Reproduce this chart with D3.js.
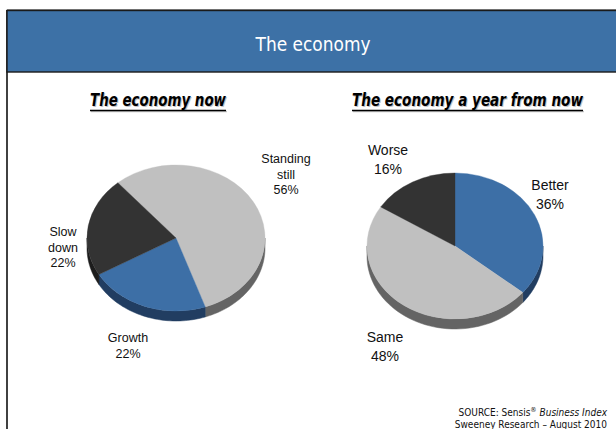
<!DOCTYPE html>
<html>
<head>
<meta charset="utf-8">
<script src="https://cdn.jsdelivr.net/npm/d3@7"></script>
<style>
  html, body { margin: 0; padding: 0; background: #fff; }
  svg { display: block; }
</style>
</head>
<body>
<svg id="chart" width="616" height="429"></svg>
<script>
// Survey data
const nowCategories = ["Standing still", "Growth", "Slow down"];
const nowValues = [56, 22, 22];
const nowColors = ["#c0c0c0", "#3d6fa6", "#333333"];
const nowWallColors = ["#646464", "#213d61", "#1c1c1c"];

const yearCategories = ["Better", "Same", "Worse"];
const yearValues = [36, 48, 16];
const yearColors = ["#3d6fa6", "#c0c0c0", "#333333"];
const yearWallColors = ["#213d61", "#646464", "#1c1c1c"];

const pageTitle = "The economy";
const subtitles = ["The economy now", "The economy a year from now"];
const sourceLines = ["SOURCE: Sensis", "Business Index", "Sweeney Research \u2013 August 2010"];

const svg = d3.select("#chart");

// Slide frame and header band
svg.append("line").attr("x1", 7).attr("x2", 7).attr("y1", 10).attr("y2", 429)
  .attr("stroke", "#111").attr("stroke-width", 1.6);
svg.append("line").attr("x1", 7).attr("x2", 616).attr("y1", 9.5).attr("y2", 9.5)
  .attr("stroke", "#888").attr("stroke-width", 1);
svg.append("rect").attr("x", 7).attr("y", 10.5).attr("width", 616).attr("height", 61.5)
  .attr("fill", "#3d71a6").attr("stroke", "#1a1a1a").attr("stroke-width", 1.4);
svg.append("text").attr("x", 313).attr("y", 51).attr("text-anchor", "middle")
  .attr("font-family", "'DejaVu Sans Condensed', 'DejaVu Sans', sans-serif")
  .attr("font-stretch", "condensed")
  .attr("font-size", 19.5).attr("fill", "#fff")
  .attr("textLength", 115).attr("lengthAdjust", "spacingAndGlyphs")
  .text(pageTitle);

// Underlined italic subtitles with a soft drop shadow
function subtitle(text, x, width) {
  const g = svg.append("g");
  [["#c4c4c4", 1], ["#000", 0]].forEach(([c, o]) => {
    g.append("text").attr("x", x + o).attr("y", 106 + o)
      .attr("font-family", "'DejaVu Sans Condensed', 'DejaVu Sans', sans-serif")
      .attr("font-stretch", "condensed")
      .attr("font-weight", "bold").attr("font-style", "italic")
      .attr("font-size", 17).attr("fill", c)
      .attr("textLength", width).attr("lengthAdjust", "spacingAndGlyphs")
      .text(text);
    g.append("line").attr("x1", x + o).attr("x2", x + width + o)
      .attr("y1", 110.5 + o).attr("y2", 110.5 + o)
      .attr("stroke", c).attr("stroke-width", 1.5);
  });
}
subtitle(subtitles[0], 90, 136);
subtitle(subtitles[1], 352, 231);

// Tilted 3-D pie: outer walls of the front half, then the top faces
function pie3d(opts) {
  const { cx, cy, rx, ry, depth, values, categories, colors, wallColors, start, labels, fontSize, lineGap } = opts;
  const arcs = d3.pie().sort(null).startAngle(start).endAngle(start + 2 * Math.PI)(values);

  const pt = (a, dy) => [cx + rx * Math.sin(a), cy - ry * Math.cos(a) + dy];
  const wallLine = d3.line();

  const walls = svg.append("g");
  arcs.forEach((d, i) => {
    [0, 2 * Math.PI, -2 * Math.PI].forEach(shift => {
      const lo = Math.max(d.startAngle + shift, Math.PI / 2);
      const hi = Math.min(d.endAngle + shift, 3 * Math.PI / 2);
      if (hi <= lo) return;
      const n = 48;
      const top = d3.range(n + 1).map(k => pt(lo + (hi - lo) * k / n, 0));
      const bottom = d3.range(n + 1).map(k => pt(hi - (hi - lo) * k / n, depth));
      walls.append("path").attr("d", wallLine(top.concat(bottom)) + "Z")
        .attr("fill", wallColors[i]).attr("stroke", wallColors[i]).attr("stroke-width", 0.5);
    });
  });

  const arc = d3.arc().innerRadius(0).outerRadius(rx);
  const face = svg.append("g").attr("transform", `translate(${cx},${cy}) scale(1,${ry / rx})`);
  face.selectAll("path").data(arcs).join("path")
    .attr("d", arc)
    .attr("fill", (d, i) => colors[i])
    .attr("stroke", (d, i) => colors[i]).attr("stroke-width", 0.4);

  // Category labels with percentages
  arcs.forEach((d, i) => {
    const lines = categories[i].split(" ");
    lines.push(values[i] + "%");
    const t = svg.append("text")
      .attr("font-family", "'Liberation Sans', Arial, sans-serif")
      .attr("font-size", fontSize).attr("fill", "#111").attr("text-anchor", "middle");
    lines.forEach((s, k) => {
      t.append("tspan").attr("x", labels[i].x).attr("y", labels[i].y + k * lineGap).text(s);
    });
  });
}

pie3d({
  cx: 176, cy: 238, rx: 89, ry: 73, depth: 10,
  values: nowValues, categories: nowCategories, colors: nowColors, wallColors: nowWallColors,
  start: -40.8 * Math.PI / 180, fontSize: 12.5, lineGap: 15.5,
  labels: [{ x: 286, y: 163 }, { x: 128, y: 342 }, { x: 63, y: 236 }]
});

pie3d({
  cx: 455, cy: 246, rx: 88, ry: 73, depth: 10,
  values: yearValues, categories: yearCategories, colors: yearColors, wallColors: yearWallColors,
  start: 0, fontSize: 14, lineGap: 18.5,
  labels: [{ x: 550, y: 190 }, { x: 385, y: 342 }, { x: 388, y: 155 }]
});

// Source note
const src = svg.append("text").attr("x", 607).attr("y", 416).attr("text-anchor", "end")
  .attr("font-family", "'DejaVu Sans Condensed', 'DejaVu Sans', sans-serif")
  .attr("font-stretch", "condensed").attr("font-size", 10).attr("fill", "#111");
src.append("tspan").text(sourceLines[0]);
src.append("tspan").attr("font-size", 7).attr("dy", -4).text("\u00AE");
src.append("tspan").attr("dy", 4).text(" ");
src.append("tspan").attr("font-style", "italic").text(sourceLines[1]);
svg.append("text").attr("x", 607).attr("y", 428).attr("text-anchor", "end")
  .attr("font-family", "'DejaVu Sans Condensed', 'DejaVu Sans', sans-serif")
  .attr("font-stretch", "condensed").attr("font-size", 10).attr("fill", "#111")
  .text(sourceLines[2]);
</script>
</body>
</html>
